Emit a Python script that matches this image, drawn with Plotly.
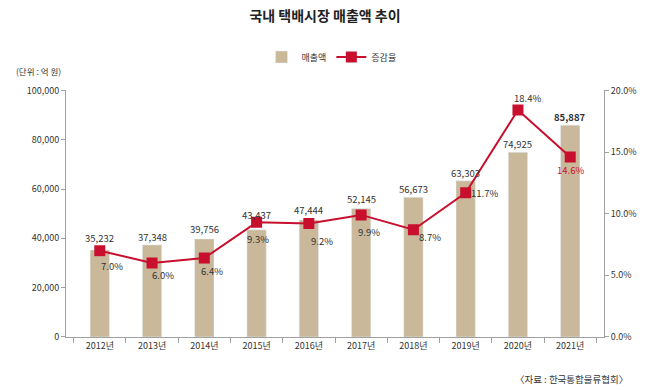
import plotly.graph_objects as go

years = ["2012년", "2013년", "2014년", "2015년", "2016년", "2017년", "2018년", "2019년", "2020년", "2021년"]
sales = [35232, 37348, 39756, 43437, 47444, 52145, 56673, 63303, 74925, 85887]
growth = [7.0, 6.0, 6.4, 9.3, 9.2, 9.9, 8.7, 11.7, 18.4, 14.6]

# label offsets (pixels)
s_dy = [12, 8, 10, 15, 10, 9, 8, 8, 8, 8]
g_dx = [12, 11, 8, 1, 13, 8, 17, 19, 10, 0]
g_dy = [-15, -12, -13, -17, -17, -17, -7, 0, 12, -13]

FONT = "Noto Sans CJK KR"
BAR = "#c9b99a"
RED = "#c8102e"
TXT = "#333333"
AX = "#a0a0a0"

fig = go.Figure()
fig.add_trace(go.Bar(
    x=years, y=sales, name="매출액", marker_color=BAR, width=0.37,
))
fig.add_trace(go.Scatter(
    x=years, y=growth, name="증감율", yaxis="y2", mode="lines+markers",
    line=dict(color=RED, width=2),
    marker=dict(symbol="square", size=11, color=RED),
))

annotations = []
for i, (yr, v) in enumerate(zip(years, sales)):
    last = i == len(years) - 1
    annotations.append(dict(
        x=yr, y=v, xref="x", yref="y", text=(f"<b>{v:,}</b>" if last else f"{v:,}"),
        showarrow=False, yshift=s_dy[i], yanchor="middle",
        font=dict(size=9.5, color=TXT, family=FONT),
    ))
for i, (yr, g) in enumerate(zip(years, growth)):
    annotations.append(dict(
        x=yr, y=g, xref="x", yref="y2", text=f"{g:.1f}%", showarrow=False,
        xshift=g_dx[i], yshift=g_dy[i],
        font=dict(size=9.5, color=RED if i == len(years) - 1 else TXT, family=FONT),
    ))

annotations.append(dict(x=-0.097, y=1.079, xref="paper", yref="paper", text="(단위 : 억 원)",
                        showarrow=False, xanchor="left", yanchor="middle",
                        font=dict(size=8.5, color=TXT, family=FONT)))
annotations.append(dict(x=1.048, y=-0.171, xref="paper", yref="paper", text="〈자료 : 한국통합물류협회〉",
                        showarrow=False, xanchor="right", yanchor="middle",
                        font=dict(size=9.5, color=TXT, family=FONT)))

fig.update_layout(
    width=650, height=390,
    margin=dict(l=66, r=46, t=85, b=53),
    paper_bgcolor="white", plot_bgcolor="white",
    font=dict(family=FONT, size=9, color=TXT),
    title=dict(text="<b>국내 택배시장 매출액 추이</b>", x=0.5, xref="container", xanchor="center",
               y=1 - 16 / 390, yref="container", yanchor="middle",
               font=dict(size=14, color="#222222", family=FONT)),
    showlegend=True,
    legend=dict(orientation="h", xref="container", x=0.51, xanchor="center",
                yref="container", y=1 - 57 / 390, yanchor="middle",
                font=dict(size=9, color=TXT, family=FONT), itemwidth=30),
    bargap=0.63,
    xaxis=dict(showline=True, linecolor=AX, linewidth=1, ticks="outside", tickson="boundaries",
               ticklen=5, tickcolor=AX, showgrid=False, tickfont=dict(size=9, color=TXT)),
    yaxis=dict(range=[0, 100000], dtick=20000, tickformat=",d", showline=True, linecolor=AX,
               ticks="outside", ticklen=4, tickcolor=AX, showgrid=False, zeroline=False,
               tickfont=dict(size=9, color=TXT)),
    yaxis2=dict(range=[0, 20], dtick=5, tickformat=".1f", ticksuffix="%", overlaying="y",
                side="right", showline=True, linecolor=AX, ticks="outside", ticklen=4,
                tickcolor=AX, showgrid=False, zeroline=False, tickfont=dict(size=9, color=TXT)),
    annotations=annotations,
)

fig.write_html("out.html", config={"displayModeBar": False},
               post_script="document.body.style.margin='0';")
